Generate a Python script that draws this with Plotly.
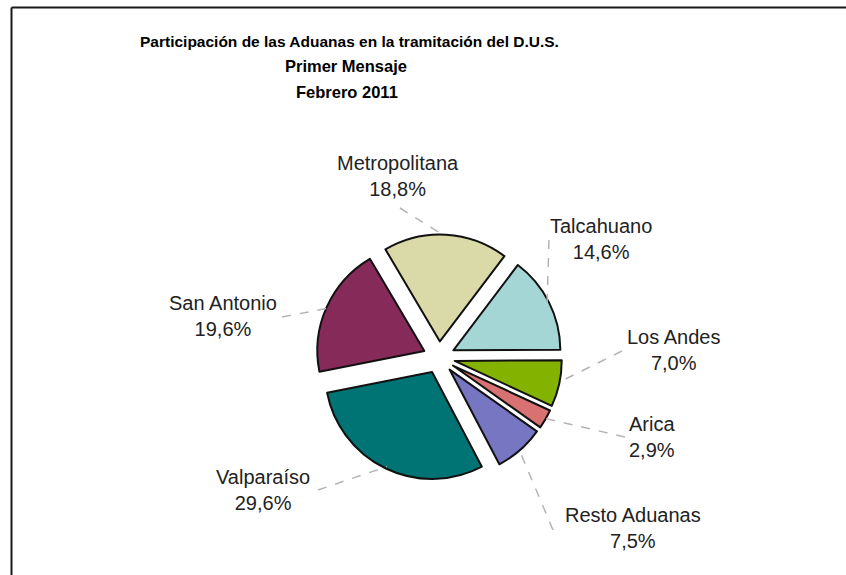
import math
import plotly.graph_objects as go

W, H = 846, 575

# ---- data ----
labels = ["Metropolitana", "Talcahuano", "Los Andes", "Arica",
          "Resto Aduanas", "Valparaíso", "San Antonio"]
shares = [18.8, 14.6, 7.0, 2.9, 7.5, 29.6, 19.6]
colors = ["#dadaa8", "#a4d6d6", "#84b200", "#d87272", "#7676c2", "#007474", "#862a5a"]
title_lines = ["Participación de las Aduanas en la tramitación del D.U.S.",
               "Primer Mensaje", "Febrero 2011"]

# ---- layout constants (pixels) ----
CX, CY = 439, 357.5
R = 107
PULL = 0.15
ROTATION = -30.6
label_centers = [(398, 176), (601, 239), (673, 350), (652, 437),
                 (633, 528), (263, 490), (223, 316)]
leader_starts = [(400, 208), (549, 240), (622, 351), (625, 437),
                 (553, 530), (318, 490), (282, 317)]
title_centers = [(349, 41), (346, 66), (347, 92)]
title_sizes = [15.5, 16.5, 16.5]

FONT = "Liberation Sans, Arial, sans-serif"


def px(x, y):
    return x / W, 1 - y / H


half = R * (1 + PULL)
dx0, _ = px(CX - half, 0)
dx1, _ = px(CX + half, 0)
_, dy0 = px(0, CY + half)
_, dy1 = px(0, CY - half)

fig = go.Figure()
fig.add_trace(go.Pie(
    labels=labels,
    values=shares,
    sort=False,
    direction="clockwise",
    rotation=ROTATION,
    pull=[PULL] * len(shares),
    marker=dict(colors=colors, line=dict(color="#111111", width=2)),
    textinfo="none",
    hoverinfo="label+percent",
    showlegend=False,
    domain=dict(x=[dx0, dx1], y=[dy0, dy1]),
))

shapes = []
annotations = []

# leader lines from labels to slice edges (angles from data)
total = sum(shares)
cum = 0.0
for i, v in enumerate(shares):
    mid = math.radians(ROTATION + 360 * (cum + v / 2) / total)
    cum += v
    rr = R * PULL + R * 0.98
    ex = CX + rr * math.sin(mid)
    ey = CY - rr * math.cos(mid)
    sx, sy = leader_starts[i]
    x0, y0 = px(sx, sy)
    x1, y1 = px(ex, ey)
    shapes.append(dict(type="line", xref="paper", yref="paper",
                       x0=x0, y0=y0, x1=x1, y1=y1,
                       line=dict(color="#b4b4b4", width=1.5, dash="dash")))
    lx, ly = label_centers[i]
    ax, ay = px(lx, ly)
    annotations.append(dict(
        x=ax, y=ay, xref="paper", yref="paper", xanchor="center", yanchor="middle",
        text=f"{labels[i]}<br>{v:.1f}%".replace(".", ","),
        showarrow=False, align="center",
        font=dict(family=FONT, size=20, color="#222222")))

for t, (tx, ty), fs in zip(title_lines, title_centers, title_sizes):
    ax, ay = px(tx, ty)
    annotations.append(dict(
        x=ax, y=ay, xref="paper", yref="paper", xanchor="center", yanchor="middle",
        text=f"<b>{t}</b>", showarrow=False,
        font=dict(family=FONT, size=fs, color="#000000")))

# chart frame (left and top edges visible)
fl, ft = px(11.5, 7.5)
shapes.append(dict(type="line", xref="paper", yref="paper", x0=fl, y0=ft, x1=fl, y1=0,
                   line=dict(color="#1a1a1a", width=2)))
shapes.append(dict(type="line", xref="paper", yref="paper", x0=fl, y0=ft, x1=1, y1=ft,
                   line=dict(color="#1a1a1a", width=2)))

fig.update_layout(
    width=W, height=H,
    margin=dict(l=0, r=0, t=0, b=0),
    paper_bgcolor="white", plot_bgcolor="white",
    shapes=shapes, annotations=annotations,
    font=dict(family=FONT),
)

fig.write_html(
    "out.html",
    config={"displayModeBar": False},
    post_script="document.body.style.margin='0';document.body.style.overflow='hidden';",
)
